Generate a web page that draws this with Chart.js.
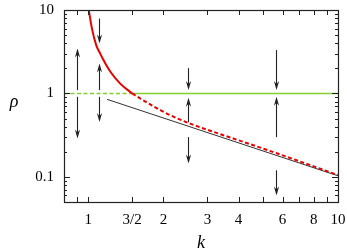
<!DOCTYPE html>
<html>
<head>
<meta charset="utf-8">
<script src="https://cdn.jsdelivr.net/npm/chart.js@4"></script>
<style>
  html, body { margin: 0; padding: 0; background: #fff; }
  #wrap { width: 347px; height: 252px; }
</style>
</head>
<body>
<div id="wrap"><canvas id="chart"></canvas></div>
<script>
// values
const redSolidK = [1.0055, 1.0347, 1.0765, 1.117, 1.151, 1.225, 1.343, 1.5];
const redSolidR = [10, 6.02, 3.79, 3.0, 2.51, 1.83, 1.31, 1.0];
const redDashK = [1.5, 1.77, 1.94, 2.13, 2.56, 3.08, 3.7, 5.65, 10];
const redDashR = [1.0, 0.738, 0.634, 0.549, 0.434, 0.357, 0.297, 0.193, 0.105];
const blackK = [1.19, 10];
const blackR = [0.85, 0.103];
const greenDashK = [0.8, 1.5];
const greenSolidK = [1.5, 10];
const greenR = [1, 1];

// arrows: position k, start rho, tip rho
const arrowK = [0.9, 0.9, 1.1, 1.1, 1.1, 2.5, 2.5, 2.5, 5.65, 5.65, 5.65];
const arrowFrom = [1.096, 0.91, 7.9, 1.096, 0.91, 2.01, 0.452, 0.30, 3.31, 0.30, 0.12];
const arrowTo = [3.46, 0.289, 3.98, 2.29, 0.456, 1.096, 0.886, 0.145, 1.096, 0.91, 0.06];

// ticks
const xTicks = [0.9, 1, 1.5, 2, 3, 4, 5, 6, 7, 8, 9, 10];
const xLabels = { 1: "1", 1.5: "3/2", 2: "2", 3: "3", 4: "4", 6: "6", 8: "8", 10: "10" };
const yMajor = [0.1, 1, 10];
const yLabels = { 0.1: "0.1", 1: "1", 10: "10" };
const yMinor = [0.06, 0.07, 0.08, 0.09, 0.2, 0.3, 0.4, 0.5, 0.6, 0.7, 0.8, 0.9, 2, 3, 4, 5, 6, 7, 8, 9];

const pts = (ks, rs) => ks.map((k, i) => ({ x: k, y: rs[i] }));
const RED = "rgb(232,0,0)";
const GREEN = "rgb(128,208,48)";
const SERIF = "'Liberation Serif', 'DejaVu Serif', serif";

// frame, inner ticks, arrows, axis names
const extras = {
  id: "extras",
  afterDraw(chart) {
    const ctx = chart.ctx, a = chart.chartArea;
    const x = chart.scales.x, y = chart.scales.y;
    ctx.save();
    ctx.strokeStyle = "#222";
    ctx.lineWidth = 1;

    // ticks inside on all sides
    ctx.beginPath();
    for (let v of xTicks) {
      const px = Math.round(x.getPixelForValue(v)) + 0.5;
      ctx.moveTo(px, a.bottom); ctx.lineTo(px, a.bottom - 5);
      ctx.moveTo(px, a.top); ctx.lineTo(px, a.top + 5);
    }
    for (let v of yMajor) {
      const py = Math.round(y.getPixelForValue(v)) + 0.5;
      ctx.moveTo(a.left, py); ctx.lineTo(a.left + 6, py);
      ctx.moveTo(a.right, py); ctx.lineTo(a.right - 6, py);
    }
    for (let v of yMinor) {
      const py = Math.round(y.getPixelForValue(v)) + 0.5;
      ctx.moveTo(a.left, py); ctx.lineTo(a.left + 3, py);
      ctx.moveTo(a.right, py); ctx.lineTo(a.right - 3, py);
    }
    ctx.stroke();

    // frame
    ctx.lineWidth = 1.2;
    ctx.strokeRect(Math.round(a.left) + 0.5, Math.round(a.top) + 0.5,
      Math.round(a.right - a.left), Math.round(a.bottom - a.top));

    // arrows
    ctx.strokeStyle = "#222";
    ctx.fillStyle = "#222";
    ctx.lineWidth = 1.1;
    for (let i = 0; i < arrowK.length; i++) {
      const px = Math.round(x.getPixelForValue(arrowK[i])) + 0.5;
      const y0 = y.getPixelForValue(arrowFrom[i]);
      const y1 = y.getPixelForValue(arrowTo[i]);
      const dir = y1 > y0 ? 1 : -1;
      ctx.beginPath();
      ctx.moveTo(px, y0);
      ctx.lineTo(px, y1 - dir * 2);
      ctx.stroke();
      ctx.beginPath();
      ctx.moveTo(px, y1);
      ctx.lineTo(px - 2.6, y1 - dir * 9);
      ctx.lineTo(px, y1 - dir * 6);
      ctx.lineTo(px + 2.6, y1 - dir * 9);
      ctx.closePath();
      ctx.fill();
    }

    // axis names
    ctx.fillStyle = "#000";
    ctx.font = "italic 18px " + SERIF;
    ctx.textAlign = "center";
    ctx.textBaseline = "middle";
    ctx.fillText("k", (a.left + a.right) / 2, 243);
    ctx.fillText("ρ", 14, 102);
    ctx.restore();
  }
};

const chart = new Chart(document.getElementById("chart"), {
  type: "scatter",
  data: {
    datasets: [
      { data: pts(redSolidK, redSolidR), borderColor: RED, borderWidth: 2, order: 0 },
      { data: pts(redDashK, redDashR), borderColor: RED, borderWidth: 2, borderDash: [4, 2.5], order: 0 },
      { data: pts(greenDashK, greenR), borderColor: GREEN, borderWidth: 1.6, borderDash: [4, 2.5], order: 1 },
      { data: pts(greenSolidK, greenR), borderColor: GREEN, borderWidth: 1.6, order: 1 },
      { data: pts(blackK, blackR), borderColor: "#333", borderWidth: 1, order: 2 },
    ].map(d => Object.assign({ showLine: true, pointRadius: 0, cubicInterpolationMode: "monotone", fill: false }, d)),
  },
  options: {
    responsive: true,
    maintainAspectRatio: false,
    animation: false,
    events: [],
    layout: { padding: { top: 10, right: 9, left: 0, bottom: 0 } },
    plugins: { legend: { display: false }, tooltip: { enabled: false } },
    scales: {
      x: {
        type: "logarithmic",
        min: 0.8,
        max: 10,
        afterBuildTicks: (s) => { s.ticks = xTicks.map(v => ({ value: v })); },
        afterFit: (s) => { s.height = 50; s.paddingLeft = 0; s.paddingRight = 0; },
        grid: { display: false, drawTicks: false },
        border: { display: false },
        ticks: {
          autoSkip: false,
          maxRotation: 0,
          padding: 9,
          color: "#000",
          font: { family: SERIF, size: 15 },
          callback: (v) => xLabels[v] || "",
        },
      },
      y: {
        type: "logarithmic",
        min: 0.05,
        max: 10,
        afterBuildTicks: (s) => { s.ticks = yMajor.map(v => ({ value: v })); },
        afterFit: (s) => { s.width = 64; s.paddingTop = 0; s.paddingBottom = 0; },
        grid: { display: false, drawTicks: false },
        border: { display: false },
        ticks: {
          padding: 10,
          color: "#000",
          font: { family: SERIF, size: 15 },
          callback: (v) => yLabels[v] || "",
        },
      },
    },
  },
  plugins: [extras],
});
</script>
</body>
</html>
